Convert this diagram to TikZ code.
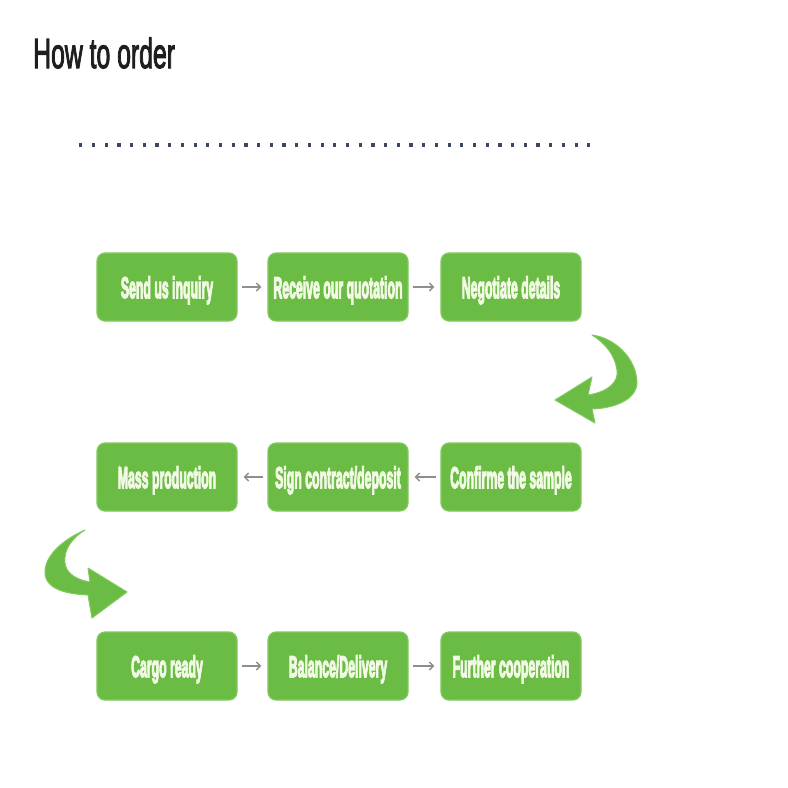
\documentclass[tikz,border=0pt]{standalone}
\usepackage{fontspec}
\setmainfont{Liberation Sans}
\newfontfamily\heavyfont[FakeBold=5]{Liberation Sans Bold}
\newfontfamily\titlefont[FakeBold=3]{Liberation Sans}
\usetikzlibrary{arrows.meta}
\definecolor{boxgreen}{HTML}{6BBC45}
\definecolor{boxedge}{HTML}{82C95E}
\definecolor{boxtext}{HTML}{F2FAE6}
\definecolor{arrowgray}{HTML}{8E8E8E}
\definecolor{dotcol}{HTML}{3D4663}
\definecolor{titlecol}{HTML}{1E1E1E}
\newcommand{\bxt}[1]{\scalebox{0.41}[1]{\fontsize{30}{30}\heavyfont #1}}
\tikzset{
  stepbox/.style={draw=boxedge, fill=boxgreen, rounded corners=8pt,
    minimum width=140pt, minimum height=68pt, line width=1.2pt,
    inner sep=0pt, text=boxtext, text height=22pt, text depth=0pt},
  flow/.style={draw=arrowgray, line width=1.4pt,
    -{Straight Barb[length=4pt,width=8pt]}, shorten <=4pt, shorten >=6pt},
  bigarrow/.style={fill=boxgreen, draw=boxedge, line width=1pt, line join=round}
}
\begin{document}
\begin{tikzpicture}[x=1pt,y=-1pt]
\useasboundingbox[fill=white] (0,0) rectangle (788,788);

% title
\node[anchor=base west, inner sep=0pt, text=titlecol] (title) at (33,68)
  {\scalebox{0.59}[1]{\fontsize{42}{42}\titlefont How to order}};

% dotted rule
\foreach \i in {0,...,40}
  \fill[dotcol] ({79.2+\i*12.7},143.4) rectangle ++(3.2,3.2);

% boxes
\node[stepbox] (s1) at (167,287) {\bxt{Send us inquiry}};
\node[stepbox] (s2) at (338,287) {\bxt{Receive our quotation}};
\node[stepbox] (s3) at (511,287) {\bxt{Negotiate details}};
\node[stepbox] (s4) at (511,477) {\bxt{Confirme the sample}};
\node[stepbox] (s5) at (338,477) {\bxt{Sign contract/deposit}};
\node[stepbox] (s6) at (167,477) {\bxt{Mass production}};
\node[stepbox] (s7) at (167,666) {\bxt{Cargo ready}};
\node[stepbox] (s8) at (338,666) {\bxt{Balance/Delivery}};
\node[stepbox] (s9) at (511,666) {\bxt{Further cooperation}};

% straight connectors
\draw[flow] (s1.east) -- (s2.west);
\draw[flow] (s2.east) -- (s3.west);
\draw[flow] (s4.west) -- (s5.east);
\draw[flow] (s5.west) -- (s6.east);
\draw[flow] (s7.east) -- (s8.west);
\draw[flow] (s8.east) -- (s9.west);

% curved arrow right (s3 -> s4)
\path[bigarrow] (592,335)
  .. controls (615,338) and (636,358) .. (637,382)
  .. controls (637,398) and (618,408) .. (592,409)
  -- (595,423) -- (555,400) -- (592,377) -- (588,395)
  .. controls (608,392) and (619,382) .. (617,370)
  .. controls (615,355) and (605,343) .. (592,335) -- cycle;

% curved arrow left (s6 -> s7)
\path[bigarrow] (85,530)
  .. controls (62,540) and (45,556) .. (45,572)
  .. controls (45,590) and (68,594) .. (88,595)
  -- (92,618) -- (127,592) -- (88,568) -- (90,582)
  .. controls (72,579) and (63,570) .. (65,557)
  .. controls (66,546) and (75,536) .. (85,530) -- cycle;
\end{tikzpicture}
\end{document}
